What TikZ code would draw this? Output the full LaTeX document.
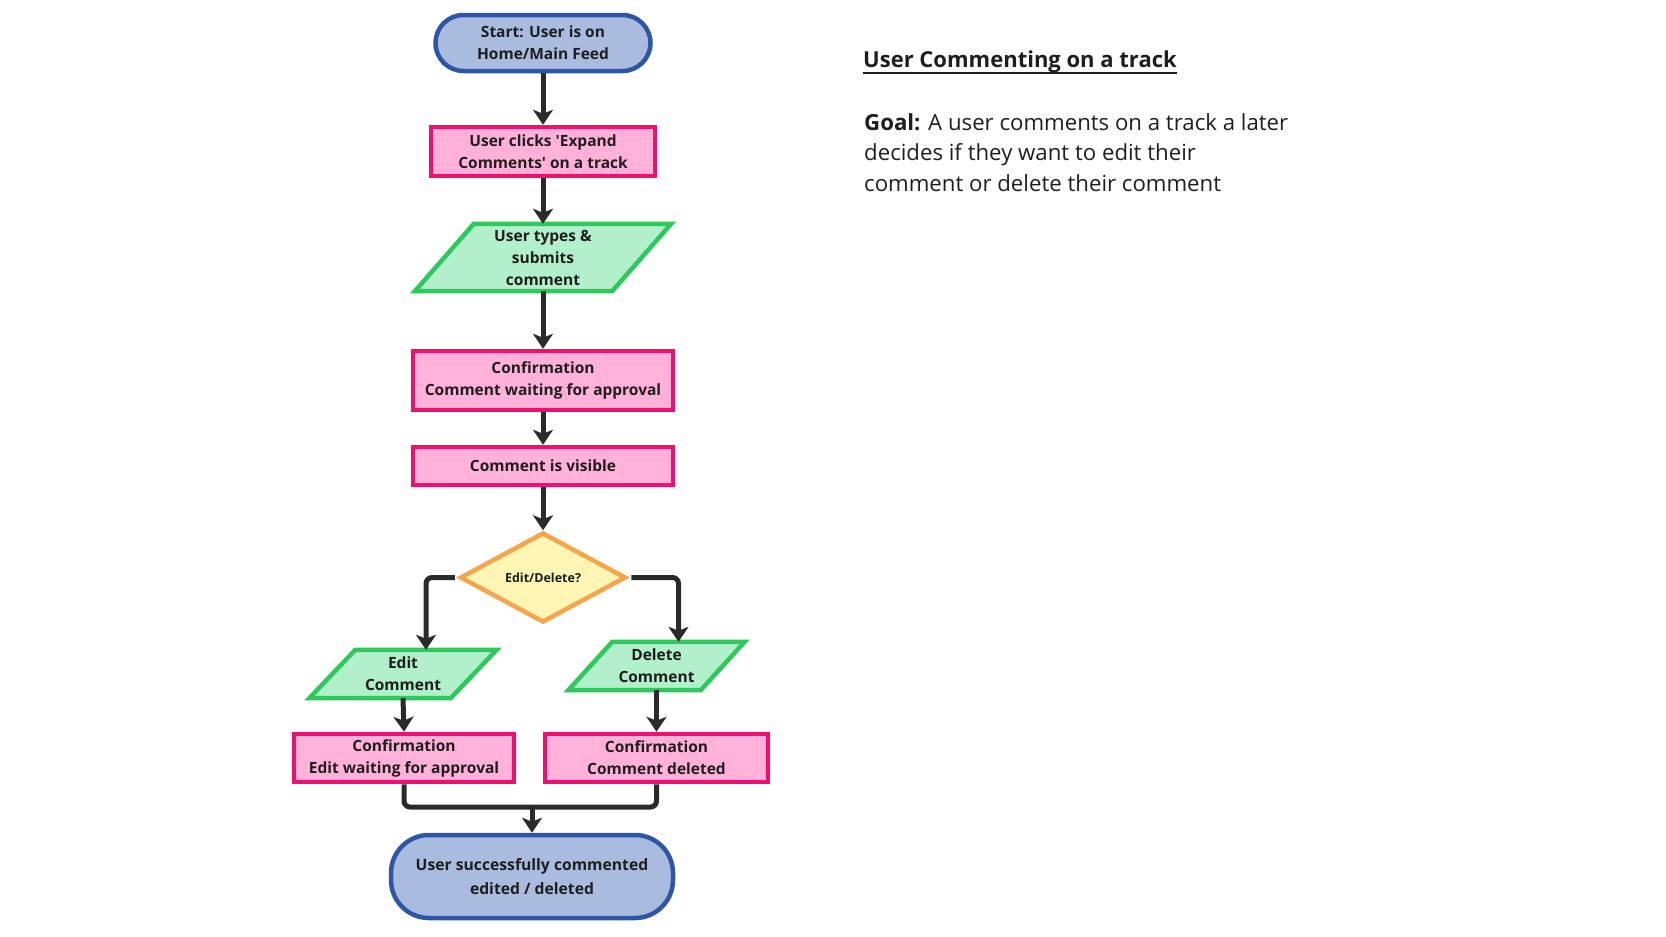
\documentclass[tikz,border=0pt]{standalone}
\usepackage{fontspec}
\setmainfont{Open Sans}
\usetikzlibrary{shapes.geometric,arrows.meta,backgrounds}
\definecolor{bfill}{HTML}{A9BCE0}
\definecolor{bdraw}{HTML}{2E56A6}
\definecolor{pfill}{HTML}{FFB1D9}
\definecolor{pdraw}{HTML}{F00F70}
\definecolor{gfill}{HTML}{B2EFCB}
\definecolor{gdraw}{HTML}{2EC95C}
\definecolor{yfill}{HTML}{FFF5B5}
\definecolor{ydraw}{HTML}{F7A44A}
\definecolor{txt}{HTML}{1E1E1E}
\definecolor{arr}{HTML}{2A2A2A}
\newcommand\paragon[2]{%
  \begin{scope}[on background layer]
    \path[paraedge] ([xshift=#2/2]#1.north west) -- ([xshift=#2/2]#1.north east)
      -- ([xshift=-#2/2]#1.south east) -- ([xshift=-#2/2]#1.south west) -- cycle;
  \end{scope}}
\begin{document}
\begin{tikzpicture}[x=1pt,y=-1pt,
  nodefont/.style={font=\bfseries\fontsize{15.5}{22}\selectfont, text=txt, align=center},
  term/.style={nodefont, rectangle, draw=bdraw, fill=bfill, line width=4.5pt, rounded corners=28pt, inner sep=0pt},
  proc/.style={nodefont, rectangle, draw=pdraw, fill=pfill, line width=4.5pt, inner sep=0pt},
  paratext/.style={nodefont, rectangle, inner sep=0pt},
  paraedge/.style={draw=gdraw, fill=gfill, line width=4.5pt, line join=miter},
  dec/.style={diamond, draw=ydraw, fill=yfill, line width=4.5pt, aspect=1.8, inner sep=0pt,
    text=txt, font=\bfseries\fontsize{12.5}{15}\selectfont},
  connline/.style={draw=arr, line width=5pt},
  conn/.style={connline, -{Stealth[length=15pt,width=20pt,inset=4pt]}},
  goaltext/.style={anchor=base west, inner sep=0pt, text=txt, font=\fontsize{22.2}{30}\selectfont}
]
\useasboundingbox (0,0) rectangle (1666,937);

\node[term, minimum width=215pt, minimum height=56pt] (start) at (543,43) {Start: User is on\\Home/Main Feed};
\node[proc, minimum width=224pt, minimum height=49pt] (expand) at (543,151.5) {User clicks \textquotesingle Expand\\Comments\textquotesingle{} on a track};
\node[paratext, minimum width=197pt, minimum height=67pt] (types) at (543,257.5) {User types \&\\submits\\comment};
\paragon{types}{59}
\node[proc, minimum width=260pt, minimum height=59pt] (confirm) at (543,380.5) {Confirmation\\Comment waiting for approval};
\node[proc, minimum width=260pt, minimum height=38pt] (visible) at (543,466) {Comment is visible};
\node[dec, minimum width=166pt, minimum height=90pt] (choice) at (543,577.5) {Edit/Delete?};
\node[paratext, minimum width=141pt, minimum height=48pt] (edit) at (403,674) {Edit\\Comment};
\paragon{edit}{46}
\node[paratext, minimum width=132pt, minimum height=48pt] (delete) at (656.5,666) {Delete\\Comment};
\paragon{delete}{44}
\node[proc, minimum width=220pt, minimum height=48pt] (confedit) at (404,758) {Confirmation\\Edit waiting for approval};
\node[proc, minimum width=223pt, minimum height=48pt] (confdel) at (656.5,758) {Confirmation\\Comment deleted};
\node[term, minimum width=282pt, minimum height=83pt, rounded corners=38pt, font=\bfseries\fontsize{15.7}{23.5}\selectfont] (finish) at (532,876.5) {User successfully commented\\edited / deleted};

\node[anchor=base west, inner sep=0pt, text=txt, font=\bfseries\fontsize{22}{26}\selectfont] (title) at (863,67) {User Commenting on a track};
\draw[line width=1.6pt, draw=txt] ([yshift=-0.5pt]title.south west) -- ([yshift=-0.5pt]title.south east);
\node[goaltext] (goal1) at (864,130) {\textbf{Goal:} A user comments on a track a later};
\node[goaltext] (goal2) at (864,160.5) {decides if they want to edit their};
\node[goaltext] (goal3) at (864,191) {comment or delete their comment};

\draw[conn] (start.south) -- (expand.north);
\draw[conn] (expand.south) -- (types.north);
\draw[conn] (types.south) -- (confirm.north);
\draw[conn] (confirm.south) -- (visible.north);
\draw[conn] (visible.south) -- (choice.north);
\draw[conn, rounded corners=6pt, shorten <=3pt] (choice.west) -| ([xshift=23pt]edit.north);
\draw[conn, rounded corners=6pt, shorten <=3pt] (choice.east) -| ([xshift=22pt]delete.north);
\draw[conn] (edit.south) -- (confedit.north);
\draw[conn] (delete.south) -- (confdel.north);
\coordinate (merge) at (532,807);
\draw[connline, rounded corners=6pt] (confedit.south) |- (merge);
\draw[connline, rounded corners=6pt] (confdel.south) |- (merge);
\draw[conn] (merge) -- (finish.north);
\end{tikzpicture}
\end{document}
